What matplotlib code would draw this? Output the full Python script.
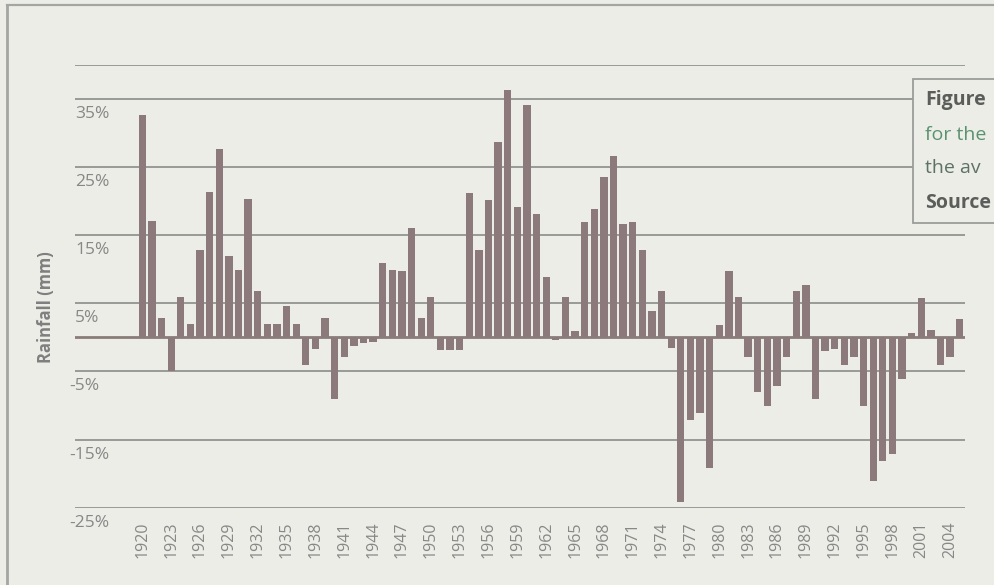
import matplotlib
matplotlib.use("Agg")
import matplotlib.pyplot as plt
import matplotlib.transforms as mtransforms
from matplotlib.patches import Rectangle
from matplotlib.lines import Line2D

# Annual rainfall departure from the long-term average (%)
years = list(range(1920, 2006))
anomaly = [
    32.6, 17.1, 2.9, -4.9, 6.0, 2.0, 12.8, 21.3, 27.6, 11.9,      # 1920s
    9.9, 20.3, 6.8, 1.9, 1.9, 4.6, 2.0, -4.0, -1.7, 2.9,          # 1930s
    -9.1, -2.9, -1.2, -0.8, -0.6, 10.9, 9.9, 9.7, 16.0, 2.9,      # 1940s
    6.0, -1.9, -1.9, -1.9, 21.2, 12.8, 20.2, 28.7, 36.4, 19.1,    # 1950s
    34.1, 18.1, 8.9, -0.4, 6.0, 0.9, 16.9, 18.8, 23.5, 26.7,      # 1960s
    16.7, 16.9, 12.8, 3.9, 6.8, -1.5, -24.1, -12.1, -11.1, -19.1, # 1970s
    1.8, 9.8, 5.9, -2.9, -8.0, -10.1, -7.1, -2.9, 6.8, 7.7,       # 1980s
    -9.1, -2.0, -1.7, -4.0, -2.9, -10.1, -21.1, -18.1, -17.1, -6.1,  # 1990s
    0.7, 5.8, 1.1, -4.0, -2.9, 2.7,                               # 2000s
]
grid_values = [35, 25, 15, 5, -5, -15, -25]
grid_labels = ["35%", "25%", "15%", "5%", "-5%", "-15%", "-25%"]
year_ticks = years[::3]
caption_lines = ["Figure", "for the", "the av", "Source"]

BG = "#ecede7"
BAR = "#8c797c"
GRID = "#919491"
TXT = "#878787"
FONT = "Open Sans"

W, H = 994, 585
fig = plt.figure(figsize=(W / 100, H / 100), dpi=100)
fig.patch.set_facecolor(BG)

def fx(px):
    return px / W

def fy(py):
    return 1 - py / H

left, right, top, bottom = 75, 965, 65, 507.7
ax = fig.add_axes([fx(left), fy(bottom), fx(right - left), (bottom - top) / H])
ax.set_facecolor(BG)
ax.set_xlim(1913.0, 2005.55)
ax.set_ylim(-25, 40)

# gridlines
for v in grid_values + [40]:
    ax.axhline(v, color=GRID, lw=1.3, zorder=1)

ax.bar(years, anomaly, width=0.76, color=BAR, zorder=2, linewidth=0)
ax.axhline(0, color="#8a7c7a", lw=2.0, zorder=3)

for s in ax.spines.values():
    s.set_visible(False)
ax.set_yticks([])
ax.set_xticks(year_ticks)
ax.set_xticklabels([str(y) for y in year_ticks], rotation=90, va="top",
                   ha="center", fontsize=11.5, color=TXT, family=FONT)
ax.tick_params(axis="x", length=0, pad=10)

# y labels sit just below their gridlines, inside the plot area
base = mtransforms.blended_transform_factory(ax.transAxes, ax.transData)
for v, lab in zip(grid_values, grid_labels):
    dx = -6 if v < 0 else 0
    tr = mtransforms.offset_copy(base, fig=fig, x=dx * 0.72, y=-7 * 0.72, units="points")
    ax.text(0, v, lab, transform=tr, ha="left", va="top", fontsize=12.5,
            color=TXT, family=FONT, zorder=4)

fig.text(fx(46), fy(307), "Rainfall (mm)", rotation=90, ha="center", va="center",
         fontsize=12, fontweight="bold", color="#7f7f7f", family=FONT)

# outer frame
fig.add_artist(Line2D([fx(7), fx(W + 5)], [fy(5), fy(5)], color="#a3a6a2", lw=1.6))
fig.add_artist(Line2D([fx(7), fx(7)], [fy(5), fy(H + 5)], color="#a3a6a2", lw=2.0))

# caption box at the right edge
fig.add_artist(Rectangle((fx(913), fy(223)), fx(120), (223 - 79) / H,
                         transform=fig.transFigure, facecolor=BG,
                         edgecolor="#9b9d9a", lw=1.3, zorder=5))
cap_style = [("bold", "#5b5d5b", 100), ("normal", "#5a9270", 135),
             ("normal", "#5d7267", 168), ("bold", "#5b5d5b", 203)]
for text, (weight, col, py) in zip(caption_lines, cap_style):
    fig.text(fx(925), fy(py), text, ha="left", va="center", fontsize=14,
             fontweight=weight, color=col, family=FONT, zorder=6)

fig.savefig("out.png", dpi=100, facecolor=BG)
